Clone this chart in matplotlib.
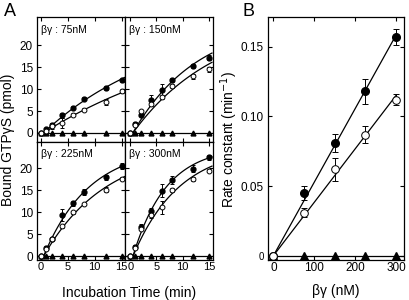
import numpy as np
import matplotlib.pyplot as plt

plt.rcParams['font.family'] = ['Liberation Sans', 'DejaVu Sans']
plt.rcParams['font.size'] = 8.5

# --- panel A: time course of GTPgS binding ---
t = [0, 1, 2, 4, 6, 8, 12, 15]
conc = [75, 150, 225, 300]

gtp_fill = [
    [0, 0.8, 1.9, 4.0, 5.8, 7.8, 10.2, 12.0],
    [0, 2.1, 4.2, 7.4, 9.8, 12.0, 15.2, 17.1],
    [0, 2.0, 3.9, 9.4, 12.0, 14.5, 17.9, 20.5],
    [0, 2.2, 6.6, 10.3, 14.9, 17.3, 19.9, 22.4],
]
err_fill = [
    [0, 0.2, 0.3, 0.5, 0.3, 0.4, 0.5, 0.4],
    [0, 0.4, 0.4, 1.3, 1.4, 0.5, 0.5, 0.6],
    [0, 0.3, 0.4, 1.3, 0.5, 0.7, 0.5, 0.7],
    [0, 0.3, 0.7, 0.6, 1.4, 1.0, 0.8, 0.6],
]
gtp_open = [
    [0, 0.5, 1.6, 2.3, 4.2, 5.3, 7.1, 9.5],
    [0, 1.8, 4.9, 6.5, 8.2, 10.7, 12.9, 14.5],
    [0, 1.8, 4.0, 6.8, 10.0, 11.9, 15.1, 17.6],
    [0, 2.0, 6.3, 9.4, 11.1, 15.0, 17.5, 19.4],
]
err_open = [
    [0, 0.3, 0.6, 1.2, 0.3, 0.3, 0.7, 0.4],
    [0, 0.3, 0.4, 0.4, 0.4, 0.4, 0.6, 0.6],
    [0, 0.3, 0.3, 0.3, 0.3, 0.3, 0.6, 0.3],
    [0, 0.3, 0.4, 0.6, 1.5, 0.4, 0.4, 0.4],
]
gtp_tri = [0, 0, 0, 0, 0, 0, 0, 0]

# --- panel B: rate constants vs beta-gamma ---
bg = [0, 75, 150, 225, 300]
rate_fill = [0, 0.045, 0.081, 0.118, 0.157]
rerr_fill = [0, 0.005, 0.0065, 0.009, 0.006]
rate_open = [0, 0.031, 0.062, 0.087, 0.112]
rerr_open = [0, 0.003, 0.008, 0.006, 0.004]
rate_tri = [0, 0, 0, 0, 0]

lag = 0.5  # min, start of the fitted curves

W, H = 409, 300
fig = plt.figure(figsize=(W / 100, H / 100), dpi=100)

def px(l, top, r, bot):
    return [l / W, 1 - bot / H, (r - l) / W, (bot - top) / H]

boxes = [px(37, 17, 125, 142), px(125, 17, 213, 142),
         px(37, 142, 125, 260), px(125, 142, 213, 260)]
ylims = [(-2.05, 26.4), (-2.05, 26.4), (-0.8, 25.9), (-0.8, 25.9)]
xlims = [(-0.7, 15.6), (-1.0, 15.8), (-0.7, 15.6), (-1.0, 15.8)]

tt = np.linspace(lag, 15.6, 100)
for i in range(4):
    ax = fig.add_axes(boxes[i])
    # fitted curves: first order with lag, rate from panel B, amplitude from points
    for y, k in ((gtp_fill[i], rate_fill[i + 1]), (gtp_open[i], rate_open[i + 1])):
        f = np.clip(1 - np.exp(-k * (np.array(t) - lag)), 0, None)
        bmax = np.sum(np.array(y) * f) / np.sum(f * f)
        ax.plot(tt, bmax * (1 - np.exp(-k * (tt - lag))), color='k', lw=0.9)
    ax.axhline(0, color='k', lw=0.9)
    ax.errorbar(t, gtp_fill[i], yerr=err_fill[i], fmt='o', color='k', ms=3.5,
                capsize=1.5, elinewidth=0.7, capthick=0.7)
    ax.errorbar(t, gtp_open[i], yerr=err_open[i], fmt='o', color='k', mfc='white',
                ms=3.5, mew=0.7, capsize=1.5, elinewidth=0.7, capthick=0.7)
    ax.plot(t, gtp_tri, '^', color='k', ms=3.5)
    ax.set_xlim(*xlims[i])
    ax.set_ylim(*ylims[i])
    ax.set_xticks([0, 5, 10, 15])
    ax.set_yticks([0, 5, 10, 15, 20])
    ax.tick_params(direction='in', top=True, right=True, length=3, width=0.8, pad=1.5)
    ax.tick_params(axis='x', labelsize=8)
    ax.tick_params(axis='y', pad=3)
    if i % 2:
        ax.set_yticklabels([])
    if i < 2:
        ax.set_xticklabels([])
    for s in ax.spines.values():
        s.set_linewidth(0.9)
    ax.text(0.05, 0.87, 'βγ : %dnM' % conc[i], transform=ax.transAxes, fontsize=7.5)

fig.text(8 / W, 1 - 140 / H, 'Bound GTPγS (pmol)', rotation=90, ha='center', va='center',
         fontsize=10)
fig.text(129 / W, 1 - 293 / H, 'Incubation Time (min)', ha='center', va='center', fontsize=10)
fig.text(4 / W, 1 - 12 / H, 'A', fontsize=13, va='center')

# panel B
axb = fig.add_axes(px(268, 17, 404, 260))
xx = np.array([0, 300])
for r in (rate_fill, rate_open):
    slope = np.dot(bg, r) / np.dot(bg, bg)
    axb.plot(xx, slope * xx, color='k', lw=0.9)
axb.axhline(0, color='k', lw=0.9)
axb.errorbar(bg, rate_fill, yerr=rerr_fill, fmt='o', color='k', ms=5.5,
             capsize=2, elinewidth=0.7, capthick=0.7)
axb.errorbar(bg, rate_open, yerr=rerr_open, fmt='o', color='k', mfc='white', ms=5.5,
             mew=0.7, capsize=2, elinewidth=0.7, capthick=0.7)
axb.plot(bg, rate_tri, '^', color='k', ms=5.5)
axb.set_xlim(-13, 319)
axb.set_ylim(-0.003, 0.1713)
axb.set_xticks([0, 100, 200, 300])
axb.set_yticks([0, 0.05, 0.10, 0.15])
axb.set_yticklabels(['0', '0.05', '0.10', '0.15'])
axb.get_yticklabels()[0].set_fontsize(7)
axb.tick_params(direction='in', top=True, right=True, length=3, width=0.8, pad=1.5)
axb.tick_params(axis='y', pad=3)
for s in axb.spines.values():
    s.set_linewidth(0.9)
axb.set_xlabel('βγ (nM)', fontsize=10, labelpad=7)
fig.text(229 / W, 1 - 139 / H, 'Rate constant (min$^{-1}$)', rotation=90, ha='center',
         va='center', fontsize=10)
fig.text(243 / W, 1 - 12 / H, 'B', fontsize=13, va='center')

fig.savefig('out.png', dpi=100)
